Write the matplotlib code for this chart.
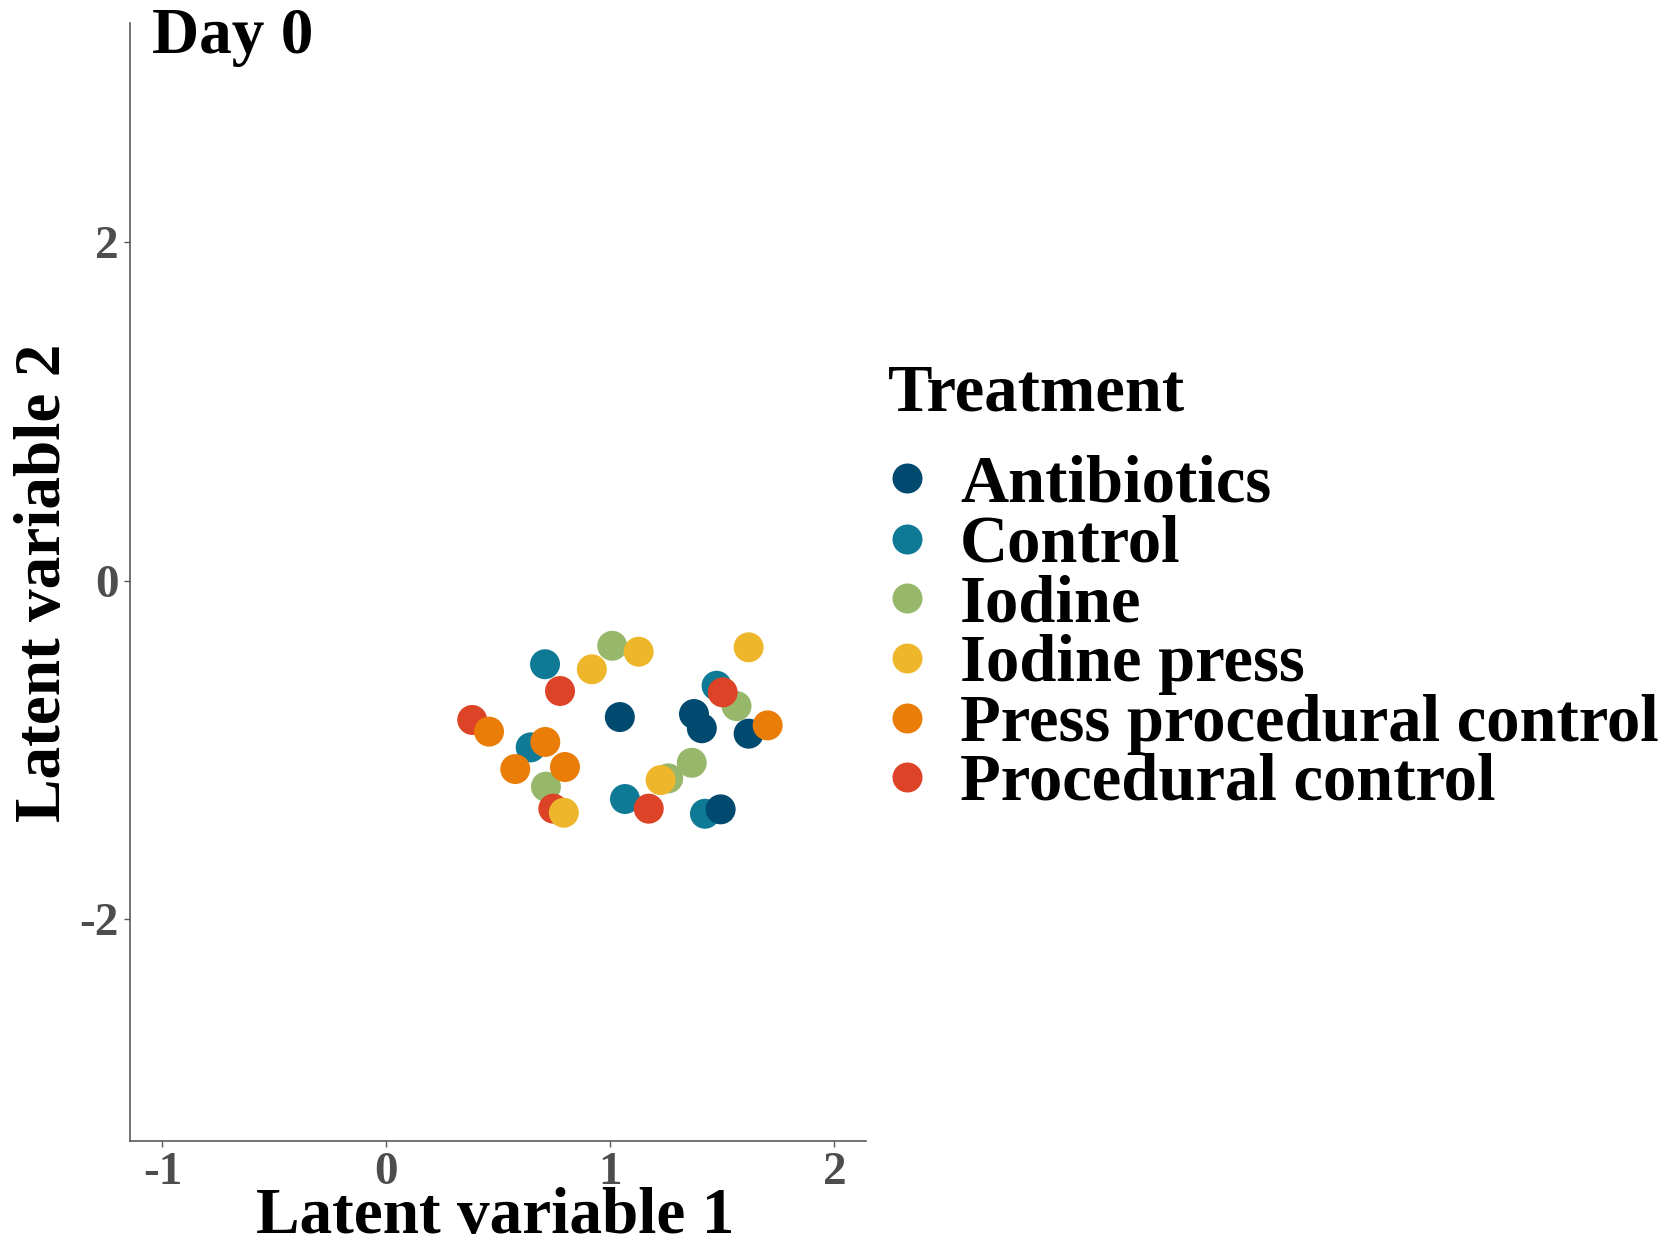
import matplotlib
matplotlib.use("Agg")
import matplotlib.pyplot as plt
from matplotlib.lines import Line2D

plt.rcParams['font.family'] = ['Liberation Serif', 'DejaVu Serif']
plt.rcParams['font.weight'] = 'bold'

# ---- data ----
treatments = ["Antibiotics", "Control", "Iodine", "Iodine press",
              "Press procedural control", "Procedural control"]
colors = ["#00496F", "#0E7A96", "#97B86A", "#EEB72B", "#EA7D08", "#DD4326"]

antibiotics_x = [1.042, 1.373, 1.408, 1.617, 1.492]
antibiotics_y = [-0.806, -0.788, -0.872, -0.904, -1.351]
control_x = [0.708, 1.474, 0.644, 1.065, 1.422]
control_y = [-0.494, -0.621, -0.985, -1.290, -1.377]
iodine_x = [1.008, 1.563, 0.712, 1.363, 1.258]
iodine_y = [-0.385, -0.741, -1.217, -1.076, -1.168]
iodine_press_x = [1.126, 0.917, 1.617, 0.792, 1.224]
iodine_press_y = [-0.420, -0.524, -0.394, -1.371, -1.178]
press_proc_x = [1.702, 0.458, 0.709, 0.575, 0.797]
press_proc_y = [-0.855, -0.892, -0.953, -1.113, -1.101]
proc_x = [0.775, 1.501, 0.383, 0.745, 1.171]
proc_y = [-0.652, -0.660, -0.823, -1.347, -1.347]

xs = [antibiotics_x, control_x, iodine_x, iodine_press_x, press_proc_x, proc_x]
ys = [antibiotics_y, control_y, iodine_y, iodine_press_y, press_proc_y, proc_y]

x_ticks = [-1, 0, 1, 2]
y_ticks = [-2, 0, 2]

W, H = 1670, 1247
fig = plt.figure(figsize=(W / 100, H / 100), dpi=100)
ax = fig.add_axes([130 / W, 1 - 1140.7 / H, (866 - 130) / W, (1140.7 - 22.7) / H])

# drawing order (z) to match overlaps
draw_order = [1, 2, 0, 5, 4, 3]
for z, i in enumerate(draw_order):
    ax.scatter(xs[i], ys[i], s=466, color=colors[i], edgecolors='none', zorder=3 + z)

ax.set_xlim(-1.145, 2.141)
ax.set_ylim(-3.308, 3.295)
ax.set_xticks(x_ticks)
ax.set_yticks(y_ticks)
ax.set_xticklabels([str(v) for v in x_ticks])
ax.set_yticklabels([str(v) for v in y_ticks])
for s in ['top', 'right']:
    ax.spines[s].set_visible(False)
for s in ['left', 'bottom']:
    ax.spines[s].set_color('#5A5A5A')
    ax.spines[s].set_linewidth(1.2)
ax.tick_params(axis='both', colors='#5A5A5A', length=4, width=1, labelsize=34,
               labelcolor='#4D4D4D', pad=4)
for lab in ax.get_xticklabels() + ax.get_yticklabels():
    lab.set_fontweight('bold')

# axis titles
fig.text(495.5 / W, 1 - 1233 / H, "Latent variable 1", ha='center', va='baseline',
         fontsize=47, fontweight='bold', color='black')
fig.text(44 / W, 1 - 583 / H, "Latent variable 2", ha='center', va='center',
         rotation=90, fontsize=47, fontweight='bold', color='black')

# panel title
fig.text(152 / W, 1 - 53 / H, "Day 0", ha='left', va='baseline',
         fontsize=47, fontweight='bold', color='black')

# legend (manual)
fig.text(888 / W, 1 - 410 / H, "Treatment", ha='left', va='baseline',
         fontsize=48, fontweight='bold', color='black')
marker_y = [478.3, 539, 598.3, 658.3, 718.3, 777.3]
label_base = [501.7, 561.7, 621, 680.7, 740.7, 800]
for i, t in enumerate(treatments):
    fig.add_artist(Line2D([907 / W], [1 - marker_y[i] / H], marker='o', markersize=21.6,
                          color=colors[i], markeredgewidth=0, linestyle='none',
                          transform=fig.transFigure))
    fig.text(960 / W, 1 - label_base[i] / H, t, ha='left', va='baseline',
             fontsize=48, fontweight='bold', color='black')

fig.savefig("out.png", dpi=100)
